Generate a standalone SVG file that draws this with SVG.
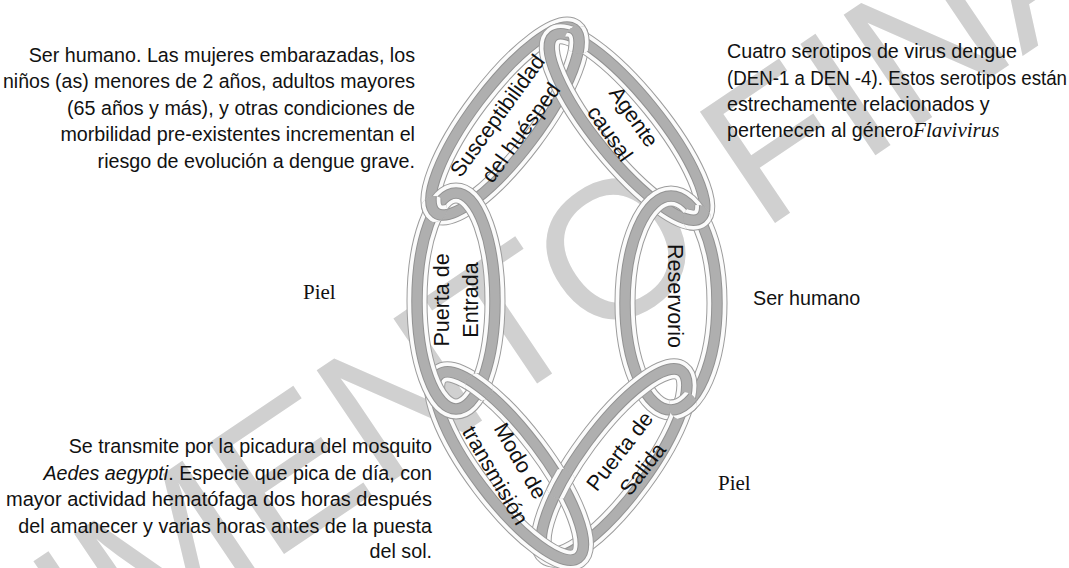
<svg xmlns="http://www.w3.org/2000/svg" xmlns:xlink="http://www.w3.org/1999/xlink" width="1069" height="568" viewBox="0 0 1069 568">
<style>
.o{fill:none;stroke:#9c9c9c;stroke-width:21}
.w{fill:none;stroke:#fbfbfb;stroke-width:19}
.d{fill:none;stroke:#929292;stroke-width:11.5}
.c{fill:none;stroke:#afafaf;stroke-width:9.5}
.lbl{font-family:"Liberation Sans",Arial,sans-serif;font-size:21.5px;fill:#111;text-anchor:middle}
.desc{font-family:"Liberation Sans",Arial,sans-serif;font-size:19.7px;fill:#111}
.end{text-anchor:end}
.ser{font-family:"Liberation Serif","Times New Roman",serif;font-size:21px;fill:#111}
.wm{font-family:"Liberation Sans",Arial,sans-serif;font-size:195px;fill:#d0d0d0}
</style>
<defs>
<g id="ringS" transform="rotate(-53 505 121)"><ellipse class="o" cx="505" cy="121" rx="115" ry="33"/><ellipse class="w" cx="505" cy="121" rx="115" ry="33"/><ellipse class="d" cx="505" cy="121" rx="115" ry="33"/><ellipse class="c" cx="505" cy="121" rx="115" ry="33"/></g>
<g id="ringA" transform="rotate(51 627 127)"><ellipse class="o" cx="627" cy="127" rx="117" ry="32"/><ellipse class="w" cx="627" cy="127" rx="117" ry="32"/><ellipse class="d" cx="627" cy="127" rx="117" ry="32"/><ellipse class="c" cx="627" cy="127" rx="117" ry="32"/></g>
<g id="ringE"><ellipse class="o" cx="456" cy="301" rx="39" ry="108"/><ellipse class="w" cx="456" cy="301" rx="39" ry="108"/><ellipse class="d" cx="456" cy="301" rx="39" ry="108"/><ellipse class="c" cx="456" cy="301" rx="39" ry="108"/></g>
<g id="ringR"><ellipse class="o" cx="671" cy="303" rx="46" ry="107"/><ellipse class="w" cx="671" cy="303" rx="46" ry="107"/><ellipse class="d" cx="671" cy="303" rx="46" ry="107"/><ellipse class="c" cx="671" cy="303" rx="46" ry="107"/></g>
<g id="ringM" transform="rotate(53 509 466)"><ellipse class="o" cx="509" cy="466" rx="115" ry="34"/><ellipse class="w" cx="509" cy="466" rx="115" ry="34"/><ellipse class="d" cx="509" cy="466" rx="115" ry="34"/><ellipse class="c" cx="509" cy="466" rx="115" ry="34"/></g>
<g id="ringP" transform="rotate(-53.7 614 463)"><ellipse class="o" cx="614" cy="463" rx="114" ry="34"/><ellipse class="w" cx="614" cy="463" rx="114" ry="34"/><ellipse class="d" cx="614" cy="463" rx="114" ry="34"/><ellipse class="c" cx="614" cy="463" rx="114" ry="34"/></g>
<clipPath id="kS1"><circle cx="579" cy="40" r="14"/></clipPath>
<clipPath id="kA1"><circle cx="697" cy="219" r="14"/></clipPath>
<clipPath id="kR1"><circle cx="683" cy="406" r="14"/></clipPath>
<clipPath id="kP1"><circle cx="561" cy="484" r="15"/></clipPath>
<clipPath id="kM1"><circle cx="479" cy="387" r="14"/></clipPath>
<clipPath id="kS2"><circle cx="434" cy="209" r="13"/></clipPath>
</defs>
<rect width="1069" height="568" fill="#fff"/>
<g id="watermark">
<text class="wm" transform="translate(-340 975) rotate(-34)">DOCUMENTO FINAL</text>
</g>
<g id="node-susceptibilidad">
<use xlink:href="#ringS"/>
</g>
<g id="node-agente">
<use xlink:href="#ringA"/>
</g>
<g id="node-reservorio">
<use xlink:href="#ringR"/>
</g>
<g id="node-salida">
<use xlink:href="#ringP"/>
</g>
<g id="node-modo">
<use xlink:href="#ringM"/>
</g>
<g id="node-entrada">
<use xlink:href="#ringE"/>
</g>
<g id="connectors">
<use xlink:href="#ringS" clip-path="url(#kS1)"/>
<use xlink:href="#ringA" clip-path="url(#kA1)"/>
<use xlink:href="#ringR" clip-path="url(#kR1)"/>
<use xlink:href="#ringP" clip-path="url(#kP1)"/>
<use xlink:href="#ringM" clip-path="url(#kM1)"/>
<use xlink:href="#ringS" clip-path="url(#kS2)"/>
</g>
<g id="labels">
<text class="lbl" transform="translate(509 124) rotate(-54)"><tspan x="0" y="-7">Susceptibilidad</tspan><tspan x="0" y="22">del huésped</tspan></text>
<text class="lbl" transform="translate(622 125) rotate(55)"><tspan x="0" y="-7">Agente</tspan><tspan x="0" y="22">causal</tspan></text>
<text class="lbl" transform="translate(456 300) rotate(-90)"><tspan x="0" y="-7">Puerta de</tspan><tspan x="0" y="22">Entrada</tspan></text>
<text class="lbl" transform="translate(675 296) rotate(90)"><tspan x="0" y="7.5">Reservorio</tspan></text>
<text class="lbl" transform="translate(508 468) rotate(60)"><tspan x="0" y="-7">Modo de</tspan><tspan x="0" y="22">transmisión</tspan></text>
<text class="lbl" transform="translate(631 460) rotate(-52)"><tspan x="0" y="-7">Puerta de</tspan><tspan x="0" y="22">Salida</tspan></text>
</g>
<g id="descriptions">
<text class="desc end" x="415" y="62">Ser humano. Las mujeres embarazadas, los</text>
<text class="desc" x="3" y="88" textLength="412" lengthAdjust="spacingAndGlyphs">niños (as) menores de 2 años, adultos mayores</text>
<text class="desc end" x="415" y="115">(65 años y más), y otras condiciones de</text>
<text class="desc end" x="415" y="141">morbilidad pre-existentes incrementan el</text>
<text class="desc end" x="415" y="168">riesgo de evolución a dengue grave.</text>
<text class="desc" x="727" y="58">Cuatro serotipos de virus dengue</text>
<text class="desc" x="727" y="85" textLength="340" lengthAdjust="spacingAndGlyphs">(DEN-1 a DEN -4). Estos serotipos están</text>
<text class="desc" x="727" y="111">estrechamente relacionados y</text>
<text class="desc" x="727" y="137">pertenecen al género<tspan font-family="'Liberation Serif',serif" font-style="italic" font-size="21px">Flavivirus</tspan></text>
<text class="desc end" x="432" y="453">Se transmite por la picadura del mosquito</text>
<text class="desc end" x="432" y="480"><tspan font-style="italic">Aedes aegypti</tspan>. Especie que pica de día, con</text>
<text class="desc" x="6" y="506" textLength="426" lengthAdjust="spacingAndGlyphs">mayor actividad hematófaga dos horas después</text>
<text class="desc end" x="432" y="533">del amanecer y varias horas antes de la puesta</text>
<text class="desc end" x="432" y="558">del sol.</text>
<text class="ser" x="303" y="299">Piel</text>
<text class="desc" x="753" y="305">Ser humano</text>
<text class="ser" x="718" y="490">Piel</text>
</g>
</svg>
